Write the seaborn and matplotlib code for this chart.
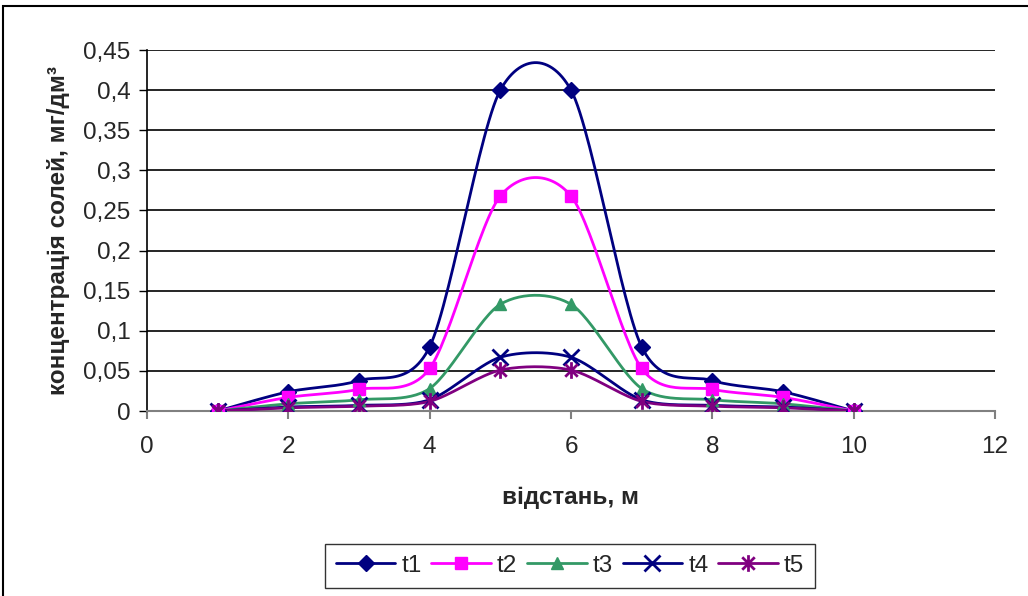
import numpy as np
import pandas as pd
import matplotlib
matplotlib.use("Agg")
import matplotlib.pyplot as plt
import seaborn as sns
from matplotlib.path import Path
from matplotlib.lines import Line2D
from matplotlib.patches import Rectangle

# ---- data ----
distance = [1, 2, 3, 4, 5, 6, 7, 8, 9, 10]
t1 = [0, 0.024, 0.038, 0.080, 0.400, 0.400, 0.080, 0.038, 0.024, 0]
t2 = [0, 0.017, 0.027, 0.053, 0.268, 0.268, 0.053, 0.027, 0.017, 0]
t3 = [0, 0.009, 0.014, 0.028, 0.133, 0.133, 0.028, 0.014, 0.009, 0]
t4 = [0, 0.005, 0.007, 0.014, 0.067, 0.067, 0.014, 0.007, 0.005, 0]
t5 = [0, 0.004, 0.006, 0.012, 0.051, 0.051, 0.012, 0.006, 0.004, 0]
series_names = ["t1", "t2", "t3", "t4", "t5"]
x_ticks = [0, 2, 4, 6, 8, 10, 12]
y_ticks = [0, 0.05, 0.1, 0.15, 0.2, 0.25, 0.3, 0.35, 0.4, 0.45]
y_tick_labels = ["0", "0,05", "0,1", "0,15", "0,2", "0,25", "0,3", "0,35", "0,4", "0,45"]
x_label = "відстань, м"
y_label = "концентрація солей, мг/дм³"

series = dict(zip(series_names, [t1, t2, t3, t4, t5]))

sns.set_theme(style="white")
plt.rcParams['font.family'] = ['Liberation Sans', 'DejaVu Sans']

colors = {"t1": "#000080", "t2": "#FF00FF", "t3": "#339966", "t4": "#000080", "t5": "#800080"}
star = Path([(0, -1), (0, 1), (-0.75, -0.75), (0.75, 0.75), (-0.75, 0.75), (0.75, -0.75)],
            [Path.MOVETO, Path.LINETO, Path.MOVETO, Path.LINETO, Path.MOVETO, Path.LINETO])
markers = {"t1": "D", "t2": "s", "t3": "^", "t4": "x", "t5": star}
msizes = {"t1": 8, "t2": 8.5, "t3": 9, "t4": 12, "t5": 12}
FS = 17.5


def smooth(xs, ys, n=30, k=1 / 7):
    P = np.column_stack([xs, ys]).astype(float)
    Pe = np.vstack([P[0], P, P[-1]])
    out = []
    t = np.linspace(0, 1, n)[:, None]
    for i in range(len(P) - 1):
        p0, p1, p2, p3 = Pe[i], Pe[i + 1], Pe[i + 2], Pe[i + 3]
        c1 = p1 + (p2 - p0) * k
        c2 = p2 - (p3 - p1) * k
        seg = ((1 - t) ** 3) * p1 + 3 * ((1 - t) ** 2) * t * c1 + 3 * (1 - t) * t ** 2 * c2 + t ** 3 * p2
        out.append(seg if i == 0 else seg[1:])
    s = np.vstack(out)
    return s[:, 0], s[:, 1]


fig = plt.figure(figsize=(10.28, 5.96), dpi=100)
ax = fig.add_axes([147 / 1028, 1 - 411 / 596, (995 - 147) / 1028, (411 - 50) / 596])

for name in series_names:
    ys = series[name]
    sx, sy = smooth(distance, ys)
    df = pd.DataFrame({"x": sx, "y": sy})
    sns.lineplot(data=df, x="x", y="y", ax=ax, color=colors[name], lw=2, sort=False,
                 estimator=None, zorder=3)
    ax.plot(distance, ys, linestyle="none", marker=markers[name], color=colors[name],
            markersize=msizes[name], markeredgewidth=2 if name in ("t4", "t5") else 1,
            zorder=4)

ax.set_xlim(0, 12)
ax.set_ylim(0, 0.45)
ax.set_xticks(x_ticks)
ax.set_xticklabels([str(v) for v in x_ticks], fontsize=FS)
ax.set_yticks(y_ticks)
ax.set_yticklabels(y_tick_labels, fontsize=FS)
ax.yaxis.grid(True, color="black", lw=1.2)
ax.xaxis.grid(False)
for s in ("top", "right"):
    ax.spines[s].set_visible(False)
ax.spines["left"].set_color("black")
ax.spines["left"].set_linewidth(1.2)
ax.spines["bottom"].set_color("#808080")
ax.spines["bottom"].set_linewidth(1.5)
ax.tick_params(axis="y", left=True, length=6, width=1, color="black", pad=6)
ax.tick_params(axis="x", bottom=True, length=6, width=1.5, color="#808080", pad=12)
ax.set_xlabel(x_label, fontsize=FS, fontweight="bold", labelpad=20)
ax.set_ylabel(y_label, fontsize=FS, fontweight="bold", labelpad=9)

handles = [Line2D([], [], color=colors[n], lw=2, marker=markers[n], markersize=msizes[n],
                  markeredgewidth=2 if n in ("t4", "t5") else 1) for n in series_names]
leg = fig.legend(handles, series_names, loc="upper center", bbox_to_anchor=(570 / 1028, 1 - 544 / 596),
                 ncol=5, fontsize=FS, frameon=True, fancybox=False, handlelength=2.45,
                 columnspacing=0.4, handletextpad=0.25, borderpad=0.45, borderaxespad=0)
leg.get_frame().set_edgecolor("black")
leg.get_frame().set_linewidth(1)

fig.patches.append(Rectangle((3 / 1028, -0.05), 1.2, 1 - 6 / 596 + 0.05, transform=fig.transFigure,
                             fill=False, edgecolor="black", lw=1.5))

fig.savefig("out.png", dpi=100)
